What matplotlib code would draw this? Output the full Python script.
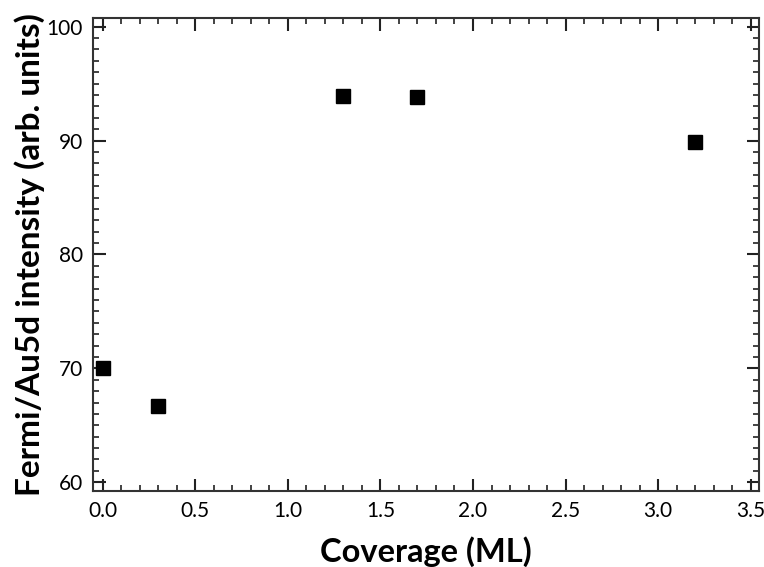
import matplotlib
matplotlib.use("Agg")
import matplotlib.pyplot as plt
from matplotlib.ticker import MultipleLocator

# Fermi edge / Au 5d intensity ratio vs coverage
coverage = [0.0, 0.3, 1.3, 1.7, 3.2]
intensity = [70.0, 66.7, 93.9, 93.8, 89.9]

plt.rcParams["font.family"] = ["Lato", "DejaVu Sans"]

fig = plt.figure(figsize=(7.64, 5.67), dpi=100)
ax = fig.add_axes([0.1213, 0.134, 0.8725, 0.8348])

ax.plot(coverage, intensity, linestyle="none", marker="s", markersize=10.5,
        color="black")

ax.set_xlim(-0.054, 3.546)
ax.set_ylim(59.23, 100.79)
ax.xaxis.set_major_locator(MultipleLocator(0.5))
ax.xaxis.set_minor_locator(MultipleLocator(0.1))
ax.yaxis.set_major_locator(MultipleLocator(10))
ax.yaxis.set_minor_locator(MultipleLocator(1))
ax.xaxis.set_major_formatter(plt.FormatStrFormatter("%.1f"))

ax.tick_params(which="both", direction="in", top=True, right=True,
               labelsize=15, color="#222222")
ax.tick_params(which="major", length=9, width=1.5, pad=7)
ax.tick_params(which="minor", length=4.5, width=1.2)
for s in ax.spines.values():
    s.set_linewidth(1.5)
    s.set_color("#333333")

ax.set_xlabel("Coverage (ML)", fontsize=23.5, fontweight="bold", va="center")
ax.set_ylabel("Fermi/Au5d intensity (arb. units)", fontsize=24,
              fontweight="bold", va="center")
ax.xaxis.set_label_coords(0.5, -0.129)
ax.yaxis.set_label_coords(-0.094, 0.5)

fig.savefig("out.png", dpi=100)
